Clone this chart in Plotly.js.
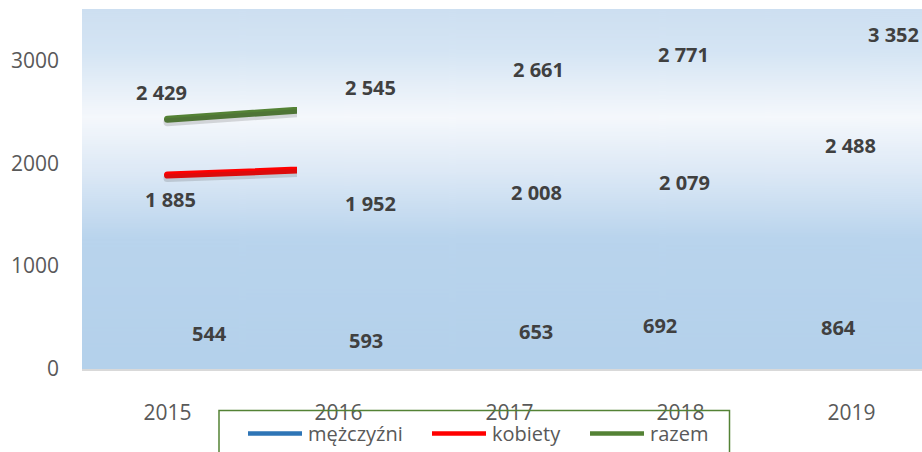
<!DOCTYPE html>
<html>
<head>
<meta charset="utf-8">
<script src="https://cdn.plot.ly/plotly-3.0.1.min.js"></script>
<style>
html,body{margin:0;padding:0;background:#fff;overflow:hidden;}
#chart{width:922px;height:452px;}
#chart .js-line{stroke-linecap:round;}
</style>
</head>
<body>
<div id="chart"></div>
<script>
// ---- data ----
var years = ['2015', '2016', '2017', '2018', '2019'];
var seriesNames = ['mężczyźni', 'kobiety', 'razem'];
var mezczyzni = [544, 593, 653, 692, 864];
var kobiety = [1885, 1952, 2008, 2079, 2488];
var razem = [2429, 2545, 2661, 2771, 3352];
var yTicks = [0, 1000, 2000, 3000];

// ---- styles / layout constants ----
var W = 922, H = 452;
var M = {l: 82, r: 0, t: 9, b: 82.5};
var plotW = W - M.l - M.r, plotH = H - M.t - M.b;
var colors = ['#2e75b6', '#ff0000', '#548235'];
var FONT = 'Open Sans, Lato, sans-serif';
var catW = 171;                         // px per category
var xRange = [-0.5, -0.5 + plotW / catW];
var yRange = [0, 3500];
var clipPx = 297;                       // visible end of the lines (px)
var clipDomain = (clipPx - M.l) / plotW;
var clipRange = [-0.5, -0.5 + (clipPx - M.l) / catW];
var pxPerUnit = plotH / (yRange[1] - yRange[0]);
var shadowShift = 3 / pxPerUnit;

// label offsets in px (dx right, dy down) per series, per point
var labelOffsets = [
  [[42, 20], [27, 32], [26, 30], [-21, 28], [-13, 47]],
  [[3, 24], [32, 35], [27, 30], [4, 27], [-1, 32]],
  [[-6, -27], [32, -20], [29, -26], [3, -29], [42, 10]]
];

function fmt(v) { return String(v).replace(/\B(?=(\d{3})+(?!\d))/g, ' '); }
function px2paperX(px) { return (px - M.l) / plotW; }
function px2paperY(py) { return (H - M.b - py) / plotH; }

// ---- gradient background ----
var cv = document.createElement('canvas');
cv.width = 8; cv.height = 362;
var ctx = cv.getContext('2d');
var g = ctx.createLinearGradient(0, 0, 0, cv.height);
g.addColorStop(0.00, '#cddff1');
g.addColorStop(0.12, '#d5e5f4');
g.addColorStop(0.30, '#f5f8fc');
g.addColorStop(0.45, '#dde9f6');
g.addColorStop(0.64, '#b9d4ed');
g.addColorStop(1.00, '#b4d1eb');
ctx.fillStyle = g;
ctx.fillRect(0, 0, cv.width, cv.height);
var bgURL = cv.toDataURL('image/png');

var allSeries = [mezczyzni, kobiety, razem];

// ---- traces ----
var traces = [];
traces.push({x: years, y: mezczyzni, type: 'scatter', mode: 'markers',
  marker: {opacity: 0}, hoverinfo: 'skip', showlegend: false, xaxis: 'x', yaxis: 'y'});
[1, 2].forEach(function (k) {
  traces.push({x: years, y: allSeries[k], type: 'scatter', mode: 'lines',
    line: {color: 'rgba(60,60,60,0.18)', width: 8}, hoverinfo: 'skip', showlegend: false,
    xaxis: 'x2', yaxis: 'y3'});
});
[1, 2].forEach(function (k) {
  traces.push({x: years, y: allSeries[k], type: 'scatter', mode: 'lines', name: seriesNames[k],
    line: {color: colors[k], width: 7}, hoverinfo: 'skip', showlegend: false,
    xaxis: 'x2', yaxis: 'y2'});
});

// ---- annotations (data labels), x given as category index ----
var annotations = [];
allSeries.forEach(function (s, k) {
  s.forEach(function (v, i) {
    annotations.push({x: years.indexOf(years[i]), y: v, xref: 'x', yref: 'y', text: '<b>' + fmt(v) + '</b>',
      showarrow: false, xanchor: 'center', yanchor: 'middle',
      xshift: labelOffsets[k][i][0], yshift: -labelOffsets[k][i][1],
      font: {family: FONT, size: 20, color: '#404040'}});
  });
});

// ---- custom legend ----
var shapes = [];
shapes.push({type: 'rect', xref: 'paper', yref: 'paper',
  x0: px2paperX(219), x1: px2paperX(729.5), y0: px2paperY(411), y1: px2paperY(480),
  line: {color: '#548235', width: 1.5}, fillcolor: 'rgba(0,0,0,0)', layer: 'above'});
var legLines = [[248, 302], [432, 486], [590, 644]];
var legText = [306, 490, 648];
var legY = 434;
seriesNames.forEach(function (n, k) {
  shapes.push({type: 'line', xref: 'paper', yref: 'paper',
    x0: px2paperX(legLines[k][0]), x1: px2paperX(legLines[k][1]),
    y0: px2paperY(legY), y1: px2paperY(legY),
    line: {color: colors[k], width: 4.5}, layer: 'above'});
  annotations.push({xref: 'paper', yref: 'paper', x: px2paperX(legText[k]), y: px2paperY(legY),
    text: n, showarrow: false, xanchor: 'left', yanchor: 'middle',
    font: {family: FONT, size: 20, color: '#595959'}});
});

var layout = {
  width: W, height: H,
  margin: M,
  paper_bgcolor: '#ffffff',
  plot_bgcolor: 'rgba(0,0,0,0)',
  showlegend: false,
  font: {family: FONT, color: '#595959', size: 21},
  xaxis: {type: 'category', categoryarray: years, range: xRange, domain: [0, 1],
    showgrid: false, zeroline: false, showline: true, linecolor: '#d9d9d9', linewidth: 2,
    ticks: '', ticklabelstandoff: 24, tickfont: {family: FONT, size: 21, color: '#595959'},
    fixedrange: true},
  yaxis: {range: yRange, tickvals: yTicks, ticktext: yTicks.map(String), showgrid: false,
    zeroline: false, showline: false, ticks: '', ticklabelstandoff: 22,
    tickfont: {family: FONT, size: 21, color: '#595959'}, fixedrange: true},
  xaxis2: {type: 'category', categoryarray: years, range: clipRange, domain: [0, clipDomain],
    anchor: 'y2', visible: false, fixedrange: true},
  yaxis2: {range: yRange, domain: [0, 1], anchor: 'x2', visible: false, fixedrange: true},
  yaxis3: {range: [yRange[0] + shadowShift, yRange[1] + shadowShift], overlaying: 'y2',
    anchor: 'x2', visible: false, fixedrange: true},
  images: [{source: bgURL, xref: 'paper', yref: 'paper', x: 0, y: 1, sizex: 1, sizey: 1,
    xanchor: 'left', yanchor: 'top', sizing: 'stretch', layer: 'below'}],
  shapes: shapes,
  annotations: annotations
};

Plotly.newPlot('chart', traces, layout, {staticPlot: true, displayModeBar: false});
</script>
</body>
</html>
